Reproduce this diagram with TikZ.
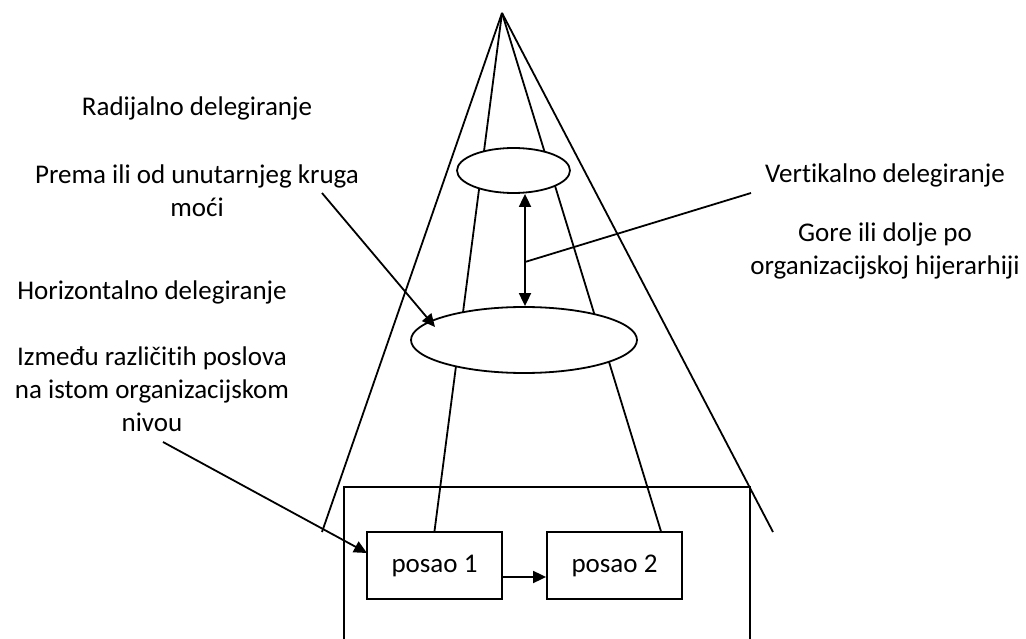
\documentclass[tikz,border=0pt]{standalone}
\usepackage{fontspec}
\setmainfont{Carlito}[Ligatures=NoCommon]
\usetikzlibrary{arrows.meta,shapes.geometric,calc}
\begin{document}
\begin{tikzpicture}[x=1pt,y=-1pt,
  line width=1.8pt,
  every node/.style={font=\fontsize{27}{33}\selectfont},
  lbl/.style={align=center, inner sep=0pt, anchor=base},
  oval/.style={ellipse, draw, fill=white, inner sep=0pt},
  jobbox/.style={rectangle, draw, fill=white, minimum width=135pt, minimum height=67pt, inner sep=0pt},
  tip/.style={-{Triangle[length=13pt,width=12pt]}},
  tips/.style={{Triangle[length=13pt,width=12pt]}-{Triangle[length=13pt,width=12pt]}},
]
\useasboundingbox (0,0) rectangle (1026,639);

% apex of the cone and the ends of its outer edges
\coordinate (apex) at (502,13);
\coordinate (coneL) at (322,532);
\coordinate (coneR) at (773,532);

% enclosing frame, open at the bottom
\draw (344,642) -- (344,487) -- (750,487) -- (750,642);

% jobs on one organisational level
\node[jobbox] (posao1) at (434.5,565.5) {posao 1};
\node[jobbox] (posao2) at (614.5,565.5) {posao 2};
\coordinate (p2top) at ([xshift=-22pt]posao2.north east);

% cone edges
\draw (apex) -- (coneL);
\draw (apex) -- (coneR);
\draw (apex) -- (posao1.north);
\draw (apex) -- (p2top);

% inner circle of power and the wider level below it
\node[oval, minimum width=113pt, minimum height=45pt] (E1) at (513.5,170.5) {};
\node[oval, minimum width=226pt, minimum height=66pt] (E2) at (524,340) {};

% vertical delegation
\coordinate (vx) at (525,0);
\draw[tips] (vx |- E1.south) -- (vx |- E2.north);
\coordinate (vmid) at (525,262);
\coordinate (vend) at (751,193);
\draw (vmid) -- (vend);

% horizontal delegation between the jobs
\draw[tip] ([yshift=-11.5pt]posao1.east) -- ([yshift=-11.5pt]posao2.west);

% labels (multi-line labels are placed by the baseline of their last line)
\node[lbl] (radT) at (197,116) {Radijalno delegiranje};
\node[lbl] (radD) at (197,217) {Prema ili od unutarnjeg kruga\\mo\'ci};
\node[lbl] (horT) at (152,299) {Horizontalno delegiranje};
\node[lbl] (horD) at (152,431) {Između različitih poslova\\na istom organizacijskom\\nivou};
\node[lbl] (verT) at (885,183) {Vertikalno delegiranje};
\node[lbl] (verD) at (885,275) {Gore ili dolje po\\organizacijskoj hijerarhiji};

% pointers from the labels
\coordinate (radS) at (322,193);
\coordinate (radE) at (435,327);
\draw[tip] (radS) -- (radE);
\coordinate (horS) at (163,442);
\coordinate (horE) at (367,553);
\draw[tip] (horS) -- (horE);
\end{tikzpicture}
\end{document}
